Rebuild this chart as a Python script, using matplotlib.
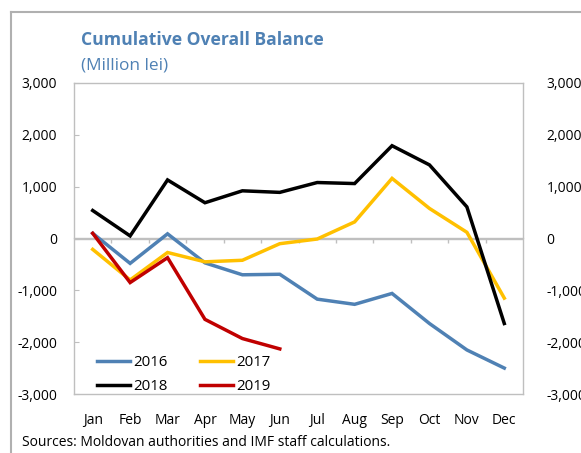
import matplotlib
matplotlib.use("Agg")
import matplotlib.pyplot as plt
import numpy as np
from matplotlib.lines import Line2D

plt.rcParams['font.family'] = ['Open Sans', 'DejaVu Sans']

months = ["Jan", "Feb", "Mar", "Apr", "May", "Jun", "Jul", "Aug", "Sep", "Oct", "Nov", "Dec"]
y2016 = [100, -480, 90, -470, -700, -690, -1170, -1270, -1060, -1640, -2150, -2500]
y2017 = [-210, -800, -270, -450, -420, -100, -10, 320, 1160, 580, 120, -1150]
y2018 = [540, 50, 1130, 690, 920, 890, 1080, 1060, 1790, 1420, 610, -1640]
y2019 = [100, -850, -370, -1560, -1930, -2130]
yticks = [-3000, -2000, -1000, 0, 1000, 2000, 3000]

series = [("2016", y2016, "#4f81b4"), ("2017", y2017, "#ffc000"),
          ("2018", y2018, "#000000"), ("2019", y2019, "#c00000")]

W, H = 581, 453
fig = plt.figure(figsize=(W / 100, H / 100), dpi=100)
ax = fig.add_axes([74 / W, 1 - 394 / H, (523 - 74) / W, (394 - 83) / H])

grey = "#bfbfbf"
x = np.arange(len(months))
handles = {}
for name, vals, col in series:
    ln, = ax.plot(x[:len(vals)], vals, color=col, lw=2.5, solid_joinstyle='miter', zorder=3)
    handles[name] = ln

ax.set_xlim(-0.5, len(months) - 0.5)
ax.set_ylim(-3000, 3000)
ax.set_yticks(yticks)
ax.set_yticklabels([f"{v:,}" for v in yticks])
ax.tick_params(axis='y', direction='in', length=3.6, color=grey, pad=12, labelsize=10)
ax.set_xticks(x)
ax.set_xticklabels(months)
ax.tick_params(axis='x', length=0, pad=14, labelsize=10)
for s in ax.spines.values():
    s.set_color(grey)
    s.set_linewidth(1)

# zero axis line with category boundary ticks
ax.axhline(0, color=grey, lw=1, zorder=2)
sec = ax.secondary_xaxis(0.5)
sec.set_xticks(np.arange(0.5, len(months) - 1, 1.0))
sec.set_xticklabels([])
sec.set_color(grey)
sec.tick_params(axis='x', direction='in', length=3.8, width=1, color=grey,
                labelbottom=False, labeltop=False)
for s in sec.spines.values():
    s.set_color(grey)
    s.set_linewidth(1)
sec.set_zorder(0.5)

# right axis
ax2 = ax.twinx()
ax2.set_ylim(ax.get_ylim())
ax2.set_yticks(yticks)
ax2.set_yticklabels([f"{v:,}" for v in yticks])
ax2.tick_params(axis='y', length=0, pad=17, labelsize=10)
for s in ax2.spines.values():
    s.set_visible(False)

order = ["2016", "2018", "2017", "2019"]
leg = fig.legend([handles[n] for n in order], order, ncol=2, loc='upper left',
                 bbox_to_anchor=(97 / W, 1 - 355 / H), frameon=False, fontsize=10.8,
                 handlelength=2.2, handletextpad=0.2, columnspacing=2.2,
                 labelspacing=0.62, borderpad=0, borderaxespad=0)

title_col = "#4f81b4"
fig.text(81 / W, 1 - 40 / H, "Cumulative Overall Balance", color=title_col,
         fontsize=12.6, fontweight='bold', va='center', ha='left')
fig.text(81 / W, 1 - 65 / H, "(Million lei)", color=title_col,
         fontsize=12.4, va='center', ha='left')
fig.text(22 / W, 1 - 443 / H, "Sources: Moldovan authorities and IMF staff calculations.",
         fontsize=10, va='center', ha='left')

# outer frame
fig.add_artist(Line2D([11 / W, 11 / W], [0, 1 - 12 / H], transform=fig.transFigure,
                      color="#b0b0b0", lw=1.5))
fig.add_artist(Line2D([11 / W, 1], [1 - 12 / H, 1 - 12 / H], transform=fig.transFigure,
                      color="#b0b0b0", lw=1.5))

fig.savefig("out.png", dpi=100)
